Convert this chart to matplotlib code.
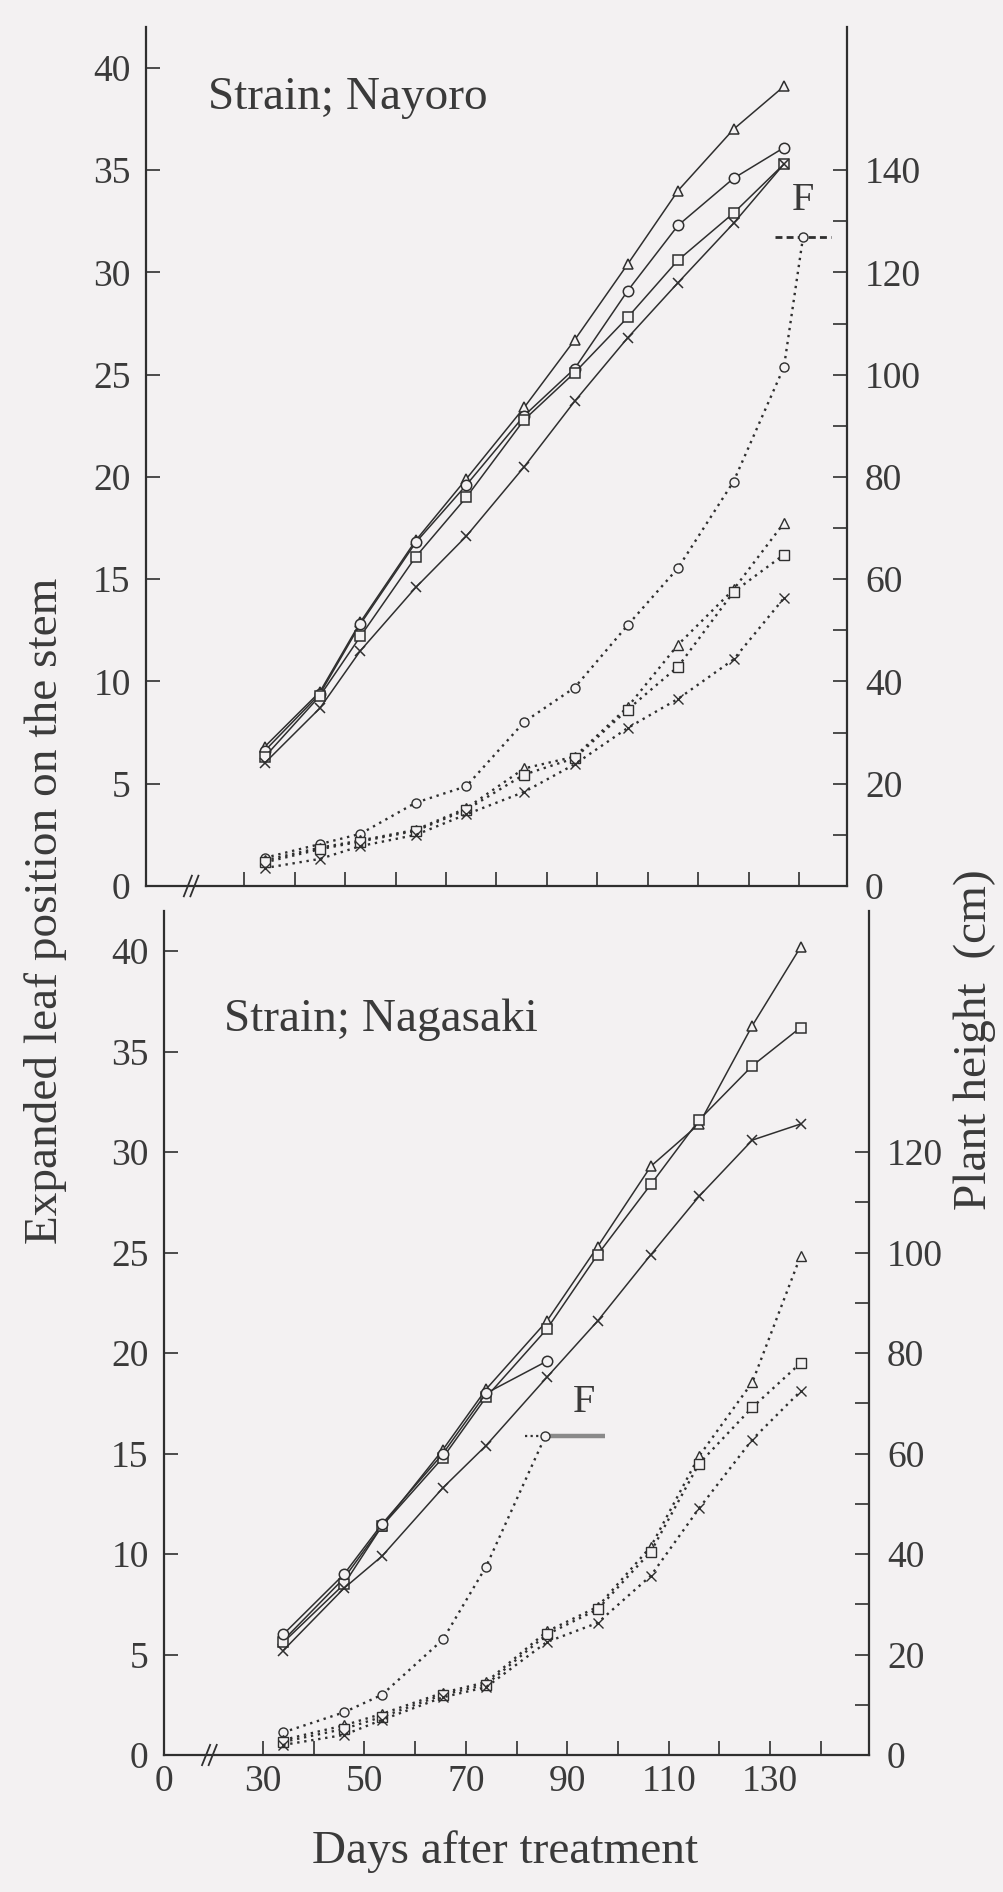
import matplotlib
matplotlib.use('Agg')
import matplotlib.pyplot as plt
import matplotlib.transforms as mtransforms
from matplotlib.ticker import FixedLocator

BG = '#f3f1f2'
INK = '#2f2f2f'
TEXT = '#3a3a3a'

plt.rcParams['font.family'] = ['Liberation Serif', 'DejaVu Serif']

# ---- Strain Nayoro -------------------------------------------------------
NAY_DAYS = [34, 45, 53, 64, 74, 85.5, 95.5, 106, 116, 127, 137]
# expanded leaf position (left axis)
NAY_LEAF_TRI = [6.8, 9.5, 12.9, 16.9, 19.9, 23.4, 26.7, 30.4, 34.0, 37.0, 39.1]
NAY_LEAF_CIR = [6.6, 9.4, 12.8, 16.8, 19.6, 23.0, 25.3, 29.1, 32.3, 34.6, 36.1]
NAY_LEAF_SQR = [6.3, 9.3, 12.2, 16.1, 19.0, 22.8, 25.1, 27.8, 30.6, 32.9, 35.3]
NAY_LEAF_CRS = [6.0, 8.7, 11.5, 14.6, 17.1, 20.5, 23.7, 26.8, 29.5, 32.4, 35.3]
# plant height, cm (right axis)
NAY_HT_CIR = [5.5, 8.2, 10.2, 16.3, 19.5, 32.1, 38.8, 51.0, 62.2, 79.1, 101.5]
NAY_HT_TRI = [5.0, 7.5, 8.9, 11.0, 15.2, 23.0, 25.3, 35.0, 47.2, 58.0, 71.0]
NAY_HT_SQR = [4.6, 7.2, 8.7, 10.8, 14.9, 21.8, 25.0, 34.5, 42.9, 57.5, 64.8]
NAY_HT_CRS = [3.5, 5.3, 7.8, 10.0, 14.0, 18.4, 23.8, 30.9, 36.6, 44.3, 56.3]
# flowering: day, height, spread before, spread after
NAY_F_DAY, NAY_F_HT, NAY_F_LO, NAY_F_HI = 140.8, 127.0, 5.6, 5.6

# ---- Strain Nagasaki -----------------------------------------------------
NAG_DAYS = [34, 46, 53.5, 65.5, 74, 86, 96, 106.5, 116, 126.5, 136]
NAG_LEAF_TRI = [5.7, 8.8, 11.4, 15.2, 18.2, 21.6, 25.3, 29.3, 31.4, 36.3, 40.2]
NAG_LEAF_SQR = [5.6, 8.5, 11.4, 14.8, 17.8, 21.2, 24.9, 28.4, 31.6, 34.3, 36.2]
NAG_LEAF_CIR = [6.0, 9.0, 11.5, 15.0, 18.0, 19.6]
NAG_LEAF_CRS = [5.2, 8.3, 9.9, 13.3, 15.4, 18.8, 21.6, 24.9, 27.8, 30.6, 31.4]
NAG_HT_CIR = [4.5, 8.5, 12.0, 23.0, 37.5]
NAG_HT_TRI = [3.0, 5.9, 8.2, 12.4, 14.5, 24.6, 29.5, 41.5, 59.5, 74.2, 99.3]
NAG_HT_SQR = [2.6, 5.2, 7.6, 12.0, 14.0, 24.0, 29.0, 40.5, 58.0, 69.2, 78.0]
NAG_HT_CRS = [2.0, 4.0, 7.0, 11.5, 13.5, 22.5, 26.3, 35.7, 49.1, 62.8, 72.4]
NAG_F_DAY, NAG_F_HT, NAG_F_LO, NAG_F_HI = 85.7, 63.5, 4.1, 11.7

X_ZERO = 10.5          # where the broken axis shows day 0
X_BREAK = 19.0
X_MAJOR = [30, 50, 70, 90, 110, 130]
X_MINOR = [40, 60, 80, 100, 120, 140]
LEAF_TICKS = [0, 5, 10, 15, 20, 25, 30, 35, 40]

W, H = 1004, 1892


def solid(ax, x, y, marker):
    ax.plot(x, y, color=INK, lw=1.1, marker=marker, ms=7.5, mfc=BG,
            mec=INK, mew=1.1, zorder=3)


def dotted(ax, x, y, marker):
    ax.plot(x, y, color=INK, lw=1.7, ls=(0, (1, 2)), marker=marker, ms=6.5,
            mfc=BG, mec=INK, mew=1.0, zorder=3)


def setup_panel(rect, height_major, height_minor, show_xlabels):
    ax = fig.add_axes(rect)
    ax.set_facecolor('none')
    ax.set_xlim(X_ZERO, 149.5)
    ax.set_ylim(0, 42)
    for side in ('top', 'right'):
        ax.spines[side].set_visible(False)
    for side in ('left', 'bottom'):
        ax.spines[side].set_linewidth(1.6)
        ax.spines[side].set_color(INK)

    ax.xaxis.set_major_locator(FixedLocator([X_ZERO] + X_MAJOR))
    ax.xaxis.set_minor_locator(FixedLocator(X_MINOR))
    if show_xlabels:
        ax.set_xticklabels(['0'] + [str(v) for v in X_MAJOR])
    else:
        ax.set_xticklabels([])
    ax.yaxis.set_major_locator(FixedLocator(LEAF_TICKS))
    ax.set_yticklabels([str(v) for v in LEAF_TICKS])
    ax.tick_params(axis='both', which='both', direction='in', length=10,
                   width=1.2, color=INK, labelsize=27, labelcolor=TEXT)
    ax.tick_params(axis='y', pad=11)
    ax.tick_params(axis='x', pad=7)

    # axis break on the day axis
    trans = mtransforms.blended_transform_factory(ax.transData, ax.transAxes)
    for off in (0.0, 1.3):
        ax.plot([X_BREAK - 1.0 + off, X_BREAK + 0.6 + off], [-0.012, 0.012],
                transform=trans, clip_on=False, color=INK, lw=1.3)

    ax2 = ax.twinx()
    ax2.set_ylim(0, 168)
    for side in ('top', 'left', 'bottom'):
        ax2.spines[side].set_visible(False)
    ax2.spines['right'].set_linewidth(1.6)
    ax2.spines['right'].set_color(INK)
    ax2.yaxis.set_major_locator(FixedLocator(height_major))
    ax2.yaxis.set_minor_locator(FixedLocator(height_minor))
    ax2.set_yticklabels([str(v) for v in height_major])
    ax2.tick_params(axis='y', which='both', direction='in', length=10,
                    width=1.2, color=INK, labelsize=27, labelcolor=TEXT, pad=13)
    return ax, ax2


fig = plt.figure(figsize=(W / 100, H / 100), dpi=100)
fig.patch.set_facecolor(BG)

# ---- top panel: Nayoro ----
ax_t, ax_t2 = setup_panel([146 / W, 1 - 886 / H, 701 / W, 859 / H],
                          [0, 20, 40, 60, 80, 100, 120, 140],
                          [10, 30, 50, 70, 90, 110, 130], False)
solid(ax_t, NAY_DAYS, NAY_LEAF_TRI, '^')
solid(ax_t, NAY_DAYS, NAY_LEAF_CIR, 'o')
solid(ax_t, NAY_DAYS, NAY_LEAF_SQR, 's')
solid(ax_t, NAY_DAYS, NAY_LEAF_CRS, 'x')
dotted(ax_t2, NAY_DAYS + [NAY_F_DAY], NAY_HT_CIR + [NAY_F_HT], 'o')
dotted(ax_t2, NAY_DAYS, NAY_HT_TRI, '^')
dotted(ax_t2, NAY_DAYS, NAY_HT_SQR, 's')
dotted(ax_t2, NAY_DAYS, NAY_HT_CRS, 'x')
ax_t2.plot([NAY_F_DAY - NAY_F_LO, NAY_F_DAY + NAY_F_HI], [NAY_F_HT, NAY_F_HT],
           color=INK, lw=2.0, ls=(0, (2.5, 1.5)), zorder=2)
ax_t2.annotate('F', (NAY_F_DAY, NAY_F_HT), xytext=(0, 13),
               textcoords='offset points', ha='center', va='bottom',
               fontsize=29, color=TEXT)
ax_t.text(0.088, 0.918, 'Strain; Nayoro', transform=ax_t.transAxes,
          ha='left', va='center', fontsize=34, color=TEXT)

# ---- bottom panel: Nagasaki ----
ax_b, ax_b2 = setup_panel([164 / W, 1 - 1755 / H, 705 / W, 844 / H],
                          [0, 20, 40, 60, 80, 100, 120],
                          [10, 30, 50, 70, 90, 110], True)
solid(ax_b, NAG_DAYS, NAG_LEAF_TRI, '^')
solid(ax_b, NAG_DAYS, NAG_LEAF_SQR, 's')
solid(ax_b, NAG_DAYS[:len(NAG_LEAF_CIR)], NAG_LEAF_CIR, 'o')
solid(ax_b, NAG_DAYS, NAG_LEAF_CRS, 'x')
dotted(ax_b2, NAG_DAYS[:len(NAG_HT_CIR)] + [NAG_F_DAY], NAG_HT_CIR + [NAG_F_HT], 'o')
dotted(ax_b2, NAG_DAYS, NAG_HT_TRI, '^')
dotted(ax_b2, NAG_DAYS, NAG_HT_SQR, 's')
dotted(ax_b2, NAG_DAYS, NAG_HT_CRS, 'x')
ax_b2.plot([NAG_F_DAY - NAG_F_LO, NAG_F_DAY], [NAG_F_HT, NAG_F_HT],
           color=INK, lw=1.6, ls=(0, (1, 1.5)), zorder=2)
ax_b2.plot([NAG_F_DAY, NAG_F_DAY + NAG_F_HI], [NAG_F_HT, NAG_F_HT],
           color='#8a8a8a', lw=3.2, solid_capstyle='butt', zorder=2)
ax_b2.annotate('F', (NAG_F_DAY, NAG_F_HT), xytext=(28, 11),
               textcoords='offset points', ha='center', va='bottom',
               fontsize=29, color=TEXT)
ax_b.text(0.085, 0.871, 'Strain; Nagasaki', transform=ax_b.transAxes,
          ha='left', va='center', fontsize=34, color=TEXT)

# ---- shared axis titles ----
fig.text(46 / W, 1 - 911 / H, 'Expanded leaf position on the stem',
         rotation=90, ha='center', va='center', fontsize=34, color=TEXT)
fig.text(975 / W, 1 - 1040 / H, 'Plant height  (cm)',
         rotation=90, ha='center', va='center', fontsize=34, color=TEXT)
fig.text(505 / W, 1 - 1852 / H, 'Days after treatment',
         ha='center', va='center', fontsize=34, color=TEXT)

fig.savefig('out.png', dpi=100, facecolor=BG)
